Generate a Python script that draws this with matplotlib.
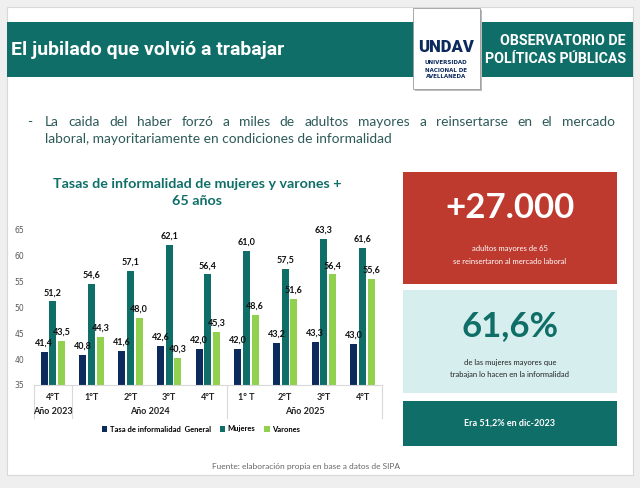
import matplotlib.pyplot as plt
from matplotlib.patches import Rectangle
from matplotlib.lines import Line2D

# data
quarters = ['4°T', '1°T', '2°T', '3°T', '4°T', '1° T', '2°T', '3°T', '4°T']
years = ['Año 2023', 'Año 2024', 'Año 2025']
year_sizes = [1, 4, 4]
general = [41.4, 40.8, 41.6, 42.6, 42.0, 42.0, 43.2, 43.3, 43.0]
mujeres = [51.2, 54.6, 57.1, 62.1, 56.4, 61.0, 57.5, 63.3, 61.6]
varones = [43.5, 44.3, 48.0, 40.3, 45.3, 48.6, 51.6, 56.4, 55.6]
series_names = ['Tasa de informalidad  General', 'Mujeres', 'Varones']
colors = ['#0c2a5c', '#0f6e68', '#92d050']

W, H = 640, 488
TEAL = '#0f6e68'


def fx(x):
    return x / W


def fy(y):
    return 1 - y / H


fig = plt.figure(figsize=(6.4, 4.88), dpi=100)
fig.patch.set_facecolor('#efefef')
renderer = fig.canvas.get_renderer()

# white card
fig.patches.append(Rectangle((fx(7), fy(475)), fx(626), (475 - 7) / H,
                             transform=fig.transFigure, facecolor='white',
                             edgecolor='#d8d8d8', lw=0.8, zorder=0))

# header band
fig.patches.append(Rectangle((fx(7), fy(77)), fx(626), 55 / H,
                             transform=fig.transFigure, facecolor=TEAL,
                             edgecolor='none', zorder=1))
cond = ['Roboto', 'DejaVu Sans']
fig.text(fx(11), fy(50), 'El jubilado que volvió a trabajar', color='white',
         fontsize=14, fontweight='bold', family=cond, va='center', zorder=3)
fig.text(fx(626), fy(41), 'OBSERVATORIO DE', color='white', fontsize=10.2,
         fontweight='bold', family=cond, ha='right', va='center', zorder=3)
fig.text(fx(626), fy(59), 'POLÍTICAS PÚBLICAS', color='white', fontsize=10.2,
         fontweight='bold', family=cond, ha='right', va='center', zorder=3)

# logo box
fig.patches.append(Rectangle((fx(415), fy(91)), fx(67), 81 / H,
                             transform=fig.transFigure, facecolor='#bbbbbb',
                             edgecolor='none', zorder=2))
fig.patches.append(Rectangle((fx(413), fy(89)), fx(67), 81 / H,
                             transform=fig.transFigure, facecolor='white',
                             edgecolor='#9a9a9a', lw=0.6, zorder=2))
fig.text(fx(446), fy(47), 'UNDAV', color='#0c2a5c', fontsize=12,
         fontweight='heavy', family=cond, ha='center', va='center', zorder=3)
for i, t in enumerate(['UNIVERSIDAD', 'NACIONAL DE', 'AVELLANEDA']):
    fig.text(fx(446), fy(63 + i * 7), t, color='#0c2a5c', fontsize=4,
             fontweight='bold', ha='center', va='center', zorder=3)

# bullet text, first line justified
body = '#2e5a5a'
bprops = dict(color=body, fontsize=9.9, fontweight='normal', family='Lato',
              va='baseline')
fig.text(fx(27), fy(126), '-', **bprops)
line1 = 'La caida del haber forzó a miles de adultos mayores a reinsertarse en el mercado'
words = line1.split()
txts = [fig.text(0, fy(126), w, **bprops) for w in words]
widths = [t.get_window_extent(renderer).width for t in txts]
gap = (615 - 45 - sum(widths)) / (len(words) - 1)
xpos = 45
for t, w in zip(txts, widths):
    t.set_x(fx(xpos))
    xpos += w + gap
fig.text(fx(45), fy(143), 'laboral, mayoritariamente en condiciones de informalidad',
         **bprops)

# chart title
fig.text(fx(197), fy(184), 'Tasas de informalidad de mujeres y varones +',
         color=TEAL, fontsize=10.3, fontweight='bold', ha='center', va='center',
         family='Lato')
fig.text(fx(197), fy(201), '65 años', color=TEAL, fontsize=10.3,
         fontweight='bold', ha='center', va='center', family='Lato')

# bar chart
ax = fig.add_axes([fx(33.6), fy(385), (382 - 33.6) / W, (385 - 230) / H])
ax.set_zorder(5)
ax.set_facecolor('none')
x = list(range(len(quarters)))
offsets = [-0.225, 0, 0.225]
for vals, off, col, name in zip([general, mujeres, varones], offsets, colors,
                                series_names):
    bars = ax.bar([i + off for i in x], [v - 35 for v in vals], bottom=35,
                  width=0.18, color=col, label=name)
    for b, v in zip(bars, vals):
        ax.annotate(f'{v:.1f}'.replace('.', ','),
                    (b.get_x() + b.get_width() / 2, v),
                    xytext=(0, 3), textcoords='offset points', ha='center',
                    va='bottom', fontsize=6.5, fontweight='bold',
                    family='Lato', color='#111111', annotation_clip=False)

ax.set_xlim(-0.5, len(quarters) - 0.5)
ax.set_ylim(35, 65)
ax.set_yticks([35, 40, 45, 50, 55, 60, 65])
ax.tick_params(axis='y', length=0, labelsize=5.5, labelcolor='#595959', pad=7)
for s in ['top', 'right', 'left']:
    ax.spines[s].set_visible(False)
ax.spines['bottom'].set_color('#d9d9d9')
ax.spines['bottom'].set_linewidth(0.8)
ax.set_xticks(x)
ax.set_xticklabels(quarters, fontsize=6.5, fontweight='bold', family='Lato',
                   color='#222222')
ax.tick_params(axis='x', length=0, pad=6)

# year labels and separators
trans = ax.get_xaxis_transform()
start = -0.5
for yr, n in zip(years, year_sizes):
    ax.text(start + n / 2, -0.172, yr, transform=trans, ha='center', va='center',
            fontsize=6.5, fontweight='bold', family='Lato', color='#222222')
    start += n
edges = [-0.5, 0.5, 4.5, 8.5]
for e in edges:
    ax.add_line(Line2D([e, e], [0, -0.215], transform=trans, color='#d9d9d9',
                       lw=0.8, clip_on=False))

leg = fig.legend(loc='center', bbox_to_anchor=(fx(201), fy(429)), ncol=3,
                 frameon=False, handlelength=0.7, handleheight=0.7,
                 handletextpad=0.3, columnspacing=1.2,
                 prop={'family': 'Lato', 'weight': 'bold', 'size': 5.5})
leg.set_zorder(6)

fig.text(fx(400), fy(466), 'Fuente: elaboración propia en base a datos de SIPA',
         color='#666666', fontsize=6, ha='right', va='center', family='Lato')

# right panels
fig.patches.append(Rectangle((fx(403), fy(284)), fx(214), 112 / H,
                             transform=fig.transFigure, facecolor='#be3a2e',
                             edgecolor='none', zorder=1))
fig.text(fx(510), fy(208), '+27.000', color='white', fontsize=25,
         fontweight='bold', ha='center', va='center', family='Lato')
fig.text(fx(510), fy(249), 'adultos mayores de 65', color='white', fontsize=5.5,
         ha='center', va='center', family='Lato')
fig.text(fx(510), fy(262), 'se reinsertaron al mercado laboral', color='white',
         fontsize=5.5, ha='center', va='center', family='Lato')

fig.patches.append(Rectangle((fx(403), fy(393)), fx(214), 103 / H,
                             transform=fig.transFigure, facecolor='#d7eeee',
                             edgecolor='none', zorder=1))
fig.text(fx(510), fy(326), '61,6%', color=TEAL, fontsize=25,
         fontweight='bold', ha='center', va='center', family='Lato')
fig.text(fx(510), fy(362), 'de las mujeres mayores que', color='#222222',
         fontsize=5.5, ha='center', va='center', family='Lato')
fig.text(fx(510), fy(375), 'trabajan lo hacen en la informalidad',
         color='#222222', fontsize=5.5, ha='center', va='center', family='Lato')

fig.patches.append(Rectangle((fx(403), fy(446)), fx(214), 45 / H,
                             transform=fig.transFigure, facecolor=TEAL,
                             edgecolor='none', zorder=1))
fig.text(fx(510), fy(423), 'Era 51,2% en dic-2023', color='white', fontsize=6.5,
         fontweight='bold', ha='center', va='center', family='Lato')

fig.savefig('out.png', dpi=100, facecolor=fig.get_facecolor())
